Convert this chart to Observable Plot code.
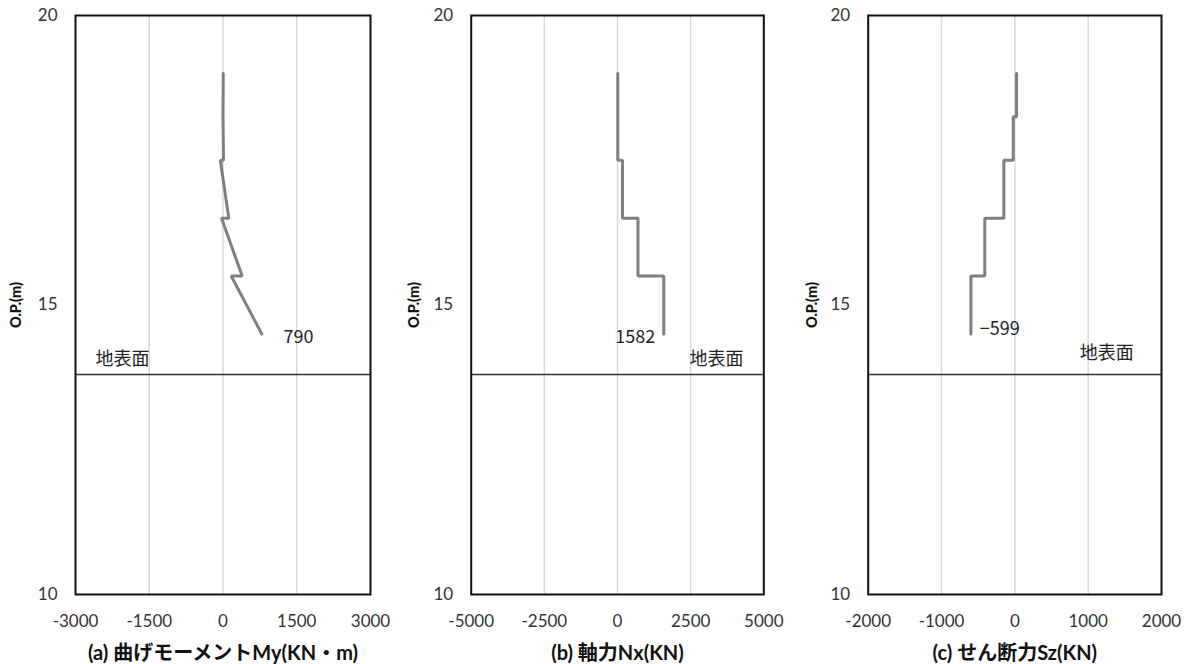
<!DOCTYPE html>
<html>
<head>
<meta charset="utf-8">
<script src="https://cdn.jsdelivr.net/npm/d3@7"></script>
<script src="https://cdn.jsdelivr.net/npm/@observablehq/plot@0.6"></script>
<style>
  html, body { margin: 0; padding: 0; background: #fff; }
  #wrap { position: relative; width: 1194px; height: 664px; overflow: hidden; }
  #wrap svg { position: absolute; top: 0; }
  [aria-label="x-axis label"] text { font-weight: bold; font-size: 20px; fill: #111; }
  [aria-label="y-axis label"] text { font-weight: 900; font-size: 14.5px; fill: #111; }
</style>
</head>
<body>
<div id="wrap"></div>
<script>
// ---- data ----
const groundLevel = 13.8;
const groundText = "地表面";

const depthA = [19.0, 18.25, 17.5, 17.5, 16.5, 16.5, 15.5, 15.5, 14.5];
const momentA = [5, 0, 10, -55, 118, -30, 390, 167, 790];

const depthB = [19.0, 17.5, 17.5, 16.5, 16.5, 15.5, 15.5, 14.5];
const axialB = [10, 10, 170, 170, 700, 700, 1582, 1582];

const depthC = [19.0, 18.25, 18.25, 17.5, 17.5, 16.5, 16.5, 15.5, 15.5, 14.5];
const shearC = [23, 23, -22, -22, -150, -150, -410, -410, -599, -599];

const ticksA = [-3000, -1500, 0, 1500, 3000];
const ticksB = [-5000, -2500, 0, 2500, 5000];
const ticksC = [-2000, -1000, 0, 1000, 2000];
const ticksY = [10, 15, 20];

const labelA = "(a) 曲げモーメントMy(KN・m)";
const labelB = "(b) 軸力Nx(KN)";
const labelC = "(c) せん断力Sz(KN)";
const labelY = "O.P.(m)";

// annotations: value label and ground label (data units)
const notesA = [{x: 1230, y: 14.45, t: "790", a: "start"}, {x: -2593, y: 14.06, t: groundText, a: "start"}];
const notesB = [{x: 1288, y: 14.45, t: "1582", a: "end"}, {x: 2460, y: 14.06, t: groundText, a: "start"}];
const notesC = [{x: -477, y: 14.58, t: "−599", a: "start"}, {x: 886, y: 14.16, t: groundText, a: "start"}];

const zip = (d, v) => d.map((dd, i) => ({d: dd, v: v[i]}));

const panels = [
  {left: 0, ml: 75, mr: 28, ticks: ticksA, data: zip(depthA, momentA), notes: notesA, label: labelA, yOff: 65},
  {left: 398, ml: 72.7, mr: 32.7, ticks: ticksB, data: zip(depthB, axialB), notes: notesB, label: labelB, yOff: 62.7},
  {left: 796, ml: 71.7, mr: 33, ticks: ticksC, data: zip(depthC, shearC), notes: notesC, label: labelC, yOff: 61.7}
];

const noteStyle = {x: "x", y: "y", text: "t", fontFamily: "'Noto Sans CJK JP', sans-serif", fontSize: 18, fill: "#222"};

const wrap = document.getElementById("wrap");
for (const p of panels) {
  const dom = [p.ticks[0], p.ticks[p.ticks.length - 1]];
  const chart = Plot.plot({
    width: 398,
    height: 664,
    marginTop: 15,
    marginBottom: 70,
    marginLeft: p.ml,
    marginRight: p.mr,
    x: {domain: dom},
    y: {domain: [10, 20]},
    style: {fontFamily: "Lato, 'Noto Sans CJK JP', sans-serif", fontSize: "17px", color: "#333", background: "transparent", overflow: "visible"},
    marks: [
      Plot.ruleX(p.ticks.slice(1, -1), {stroke: "#d9d9d9", strokeWidth: 1.5}),
      Plot.ruleY([groundLevel], {stroke: "#333", strokeWidth: 1.6}),
      Plot.frame({stroke: "#111", strokeWidth: 2}),
      Plot.line(p.data, {x: "v", y: "d", stroke: "#7f7f7f", strokeWidth: 3, strokeLinejoin: "miter"}),
      Plot.text(p.notes.filter(n => n.a === "start"), {...noteStyle, textAnchor: "start"}),
      Plot.text(p.notes.filter(n => n.a === "end"), {...noteStyle, textAnchor: "end"}),
      Plot.axisX({ticks: p.ticks, tickSize: 0, tickPadding: 20, tickFormat: d => String(d), label: p.label, labelAnchor: "center", labelOffset: 65, labelArrow: "none"}),
      Plot.axisY({ticks: ticksY, tickSize: 0, tickPadding: 18, tickFormat: d => String(d), label: labelY, labelAnchor: "center", labelOffset: p.yOff, labelArrow: "none"})
    ]
  });
  chart.style.left = p.left + "px";
  wrap.appendChild(chart);
}
</script>
</body>
</html>
